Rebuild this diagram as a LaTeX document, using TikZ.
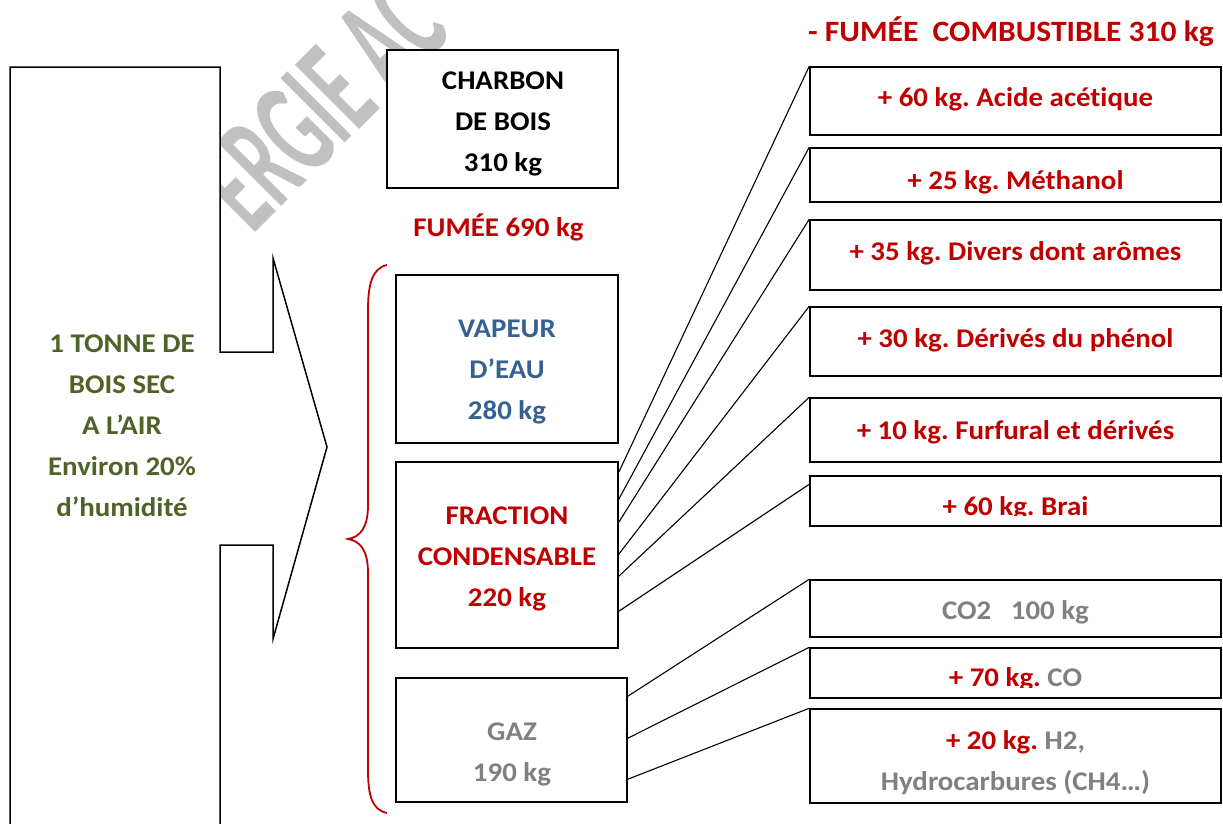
\documentclass[tikz,border=0pt]{standalone}
\usepackage{fontspec}
\setmainfont{Carlito}[Ligatures=NoCommon, FakeStretch=1.07]
\usepackage{tikz}
\usetikzlibrary{positioning}
\definecolor{fumred}{HTML}{C00000}
\definecolor{boisgreen}{HTML}{4F6228}
\definecolor{eaublue}{HTML}{376092}
\definecolor{gazgray}{HTML}{808080}
\definecolor{markgray}{HTML}{C0C0C0}
\frenchspacing

\begin{document}
\begin{tikzpicture}[x=1pt,y=-1pt,
  txt/.style={font=\fontsize{27}{41}\selectfont\bfseries, align=center, inner sep=0pt},
  cbox/.style={draw, line width=1.5pt, fill=white, inner sep=0pt},
  rbox/.style={cbox, minimum width=411pt},
  link/.style={line width=1.1pt}]
\useasboundingbox (0,0) rectangle (1223,823);
\node[text=markgray, rotate=45, font=\fontsize{140}{140}\selectfont\bfseries, inner sep=0pt] (mark) at (321,103) {\scalebox{0.5}[1]{ERGIE AC}};
\draw[line width=1.5pt, fill=white] (10,830) -- (10,67) -- (220,67) -- (220,352) -- (273,352) -- (273,258) -- (327,447) -- (273,639) -- (273,545) -- (220,545) -- (220,830);
\node[txt, text=boisgreen] (bois) at (122,426) {1 TONNE DE\\BOIS SEC\\A L’AIR\\Environ 20\%\\d’humidité};

\node[cbox, minimum width=231pt, minimum height=138pt] (charbon) at (502.5,119) {};
\node[txt] (charbontxt) at (503,124) {CHARBON\\DE BOIS\\310 kg};
\node[txt, text=fumred] (fumee) at (498.5,227) {FUMÉE 690 kg};
\node[txt, text=fumred, font=\fontsize{29.5}{41}\selectfont\bfseries] (combust) at (1011,32) {- FUMÉE\ \ COMBUSTIBLE 310 kg};
\draw[fumred, line width=1.8pt] (387,265) .. controls (372,268) and (368,285) .. (368,310) -- (368,505) .. controls (368,528) and (360,537) .. (348,539) .. controls (360,541) and (368,550) .. (368,573) -- (368,770) .. controls (368,795) and (372,810) .. (387,813);

\node[cbox, minimum width=222pt, minimum height=168pt] (vapeur) at (507,359) {};
\node[txt, text=eaublue] (vapeurtxt) at (507,372) {VAPEUR\\D’EAU\\280 kg};
\node[cbox, minimum width=222pt, minimum height=186pt] (frac) at (507,555) {};
\node[txt, text=fumred] (fractxt) at (507,559) {FRACTION\\CONDENSABLE\\220 kg};
\node[cbox, minimum width=231pt, minimum height=124pt] (gaz) at (511.5,740) {};
\node[txt, text=gazgray] (gaztxt) at (512,754) {GAZ\\190 kg};

\node[rbox, minimum height=68pt] (acide) at (1015.5,101) {};
\node[txt, text=fumred] (acidetxt) at (1015.5,99) {+ 60 kg. Acide acétique};
\node[rbox, minimum height=54pt] (methanol) at (1015.5,175) {};
\node[txt, text=fumred] (methanoltxt) at (1015.5,182) {+ 25 kg. Méthanol};
\node[rbox, minimum height=70pt] (divers) at (1015.5,255) {};
\node[txt, text=fumred] (diverstxt) at (1015.5,253) {+ 35 kg. Divers dont arômes};
\node[rbox, minimum height=69pt] (phenol) at (1015.5,341.5) {};
\node[txt, text=fumred] (phenoltxt) at (1015.5,340.5) {+ 30 kg. Dérivés du phénol};
\node[rbox, minimum height=64pt] (furfural) at (1015.5,430) {};
\node[txt, text=fumred] (furfuraltxt) at (1015.5,432) {+ 10 kg. Furfural et dérivés};
\node[rbox, minimum height=50pt] (brai) at (1015.5,501) {};
\begin{scope}
\clip (brai.north west) rectangle ([yshift=11pt]brai.south east);
\node[txt, text=fumred] (braitxt) at (1015.5,508.5) {+ 60 kg. Brai};
\end{scope}
\node[rbox, minimum height=57pt] (co2) at (1015.5,608.5) {};
\node[txt, text=gazgray] (co2txt) at (1015.5,612.5) {CO2\ \ \ 100 kg};
\node[rbox, minimum height=50pt] (co) at (1015.5,673) {};
\begin{scope}
\clip (co.north west) rectangle ([yshift=11pt]co.south east);
\node[txt] (cotxt) at (1015.5,679.5) {\textcolor{fumred}{+ 70 kg.} \textcolor{gazgray}{CO}};
\end{scope}
\node[rbox, minimum height=94pt] (h2) at (1015.5,756) {};
\node[txt, text=gazgray] (h2txt) at (1015.5,763) {\textcolor{fumred}{+ 20 kg.} H2,\\Hydrocarbures (CH4…)};

\draw[link] ([yshift=-11pt]frac.north east) -- (acide.north west);
\draw[link] ([yshift=-38pt]frac.north east) -- (methanol.north west);
\draw[link] ([yshift=-61pt]frac.north east) -- (divers.north west);
\draw[link] ([yshift=-93pt]frac.north east) -- (phenol.north west);
\draw[link] ([yshift=-115pt]frac.north east) -- (furfural.north west);
\draw[link] ([yshift=-150pt]frac.north east) -- ([yshift=-9pt]brai.north west);
\draw[link] ([yshift=-19pt]gaz.north east) -- (co2.north west);
\draw[link] ([yshift=-61pt]gaz.north east) -- (co.north west);
\draw[link] ([yshift=-102pt]gaz.north east) -- (h2.north west);
\end{tikzpicture}
\end{document}
